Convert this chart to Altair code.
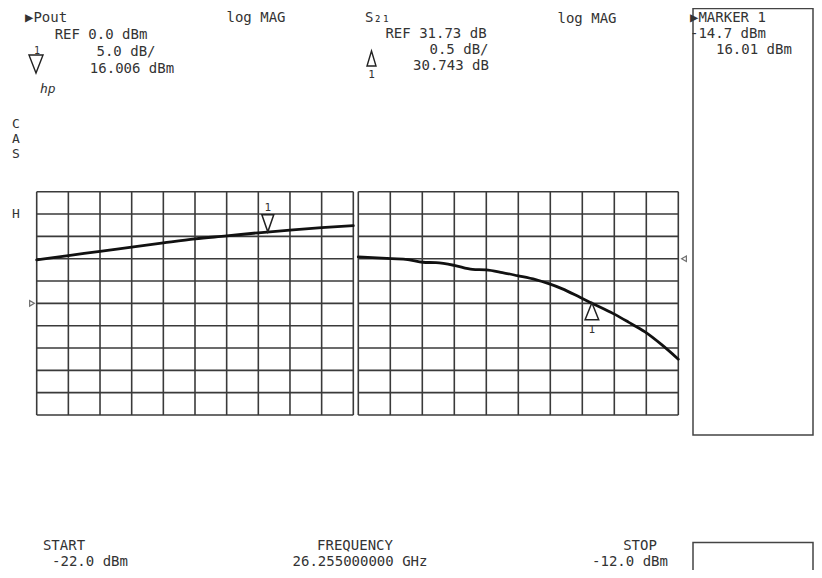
import altair as alt
import pandas as pd

# ---------------- data ----------------
pin_grid = [-22, -21, -20, -19, -18, -17, -16, -15, -14, -13, -12]
pout_levels = [-25, -20, -15, -10, -5, 0, 5, 10, 15, 20, 25]
s21_levels = [28.23, 28.73, 29.23, 29.73, 30.23, 30.73, 31.23, 31.73, 32.23, 32.73, 33.23]

pout_pin = [-22, -21, -20, -19, -18, -17, -16, -15, -14, -13, -12]
pout_dbm = [9.75, 10.7, 11.65, 12.6, 13.55, 14.45, 15.1, 15.8, 16.4, 16.95, 17.4]

s21_pin = [-22.0, -20.96, -20.45, -19.98, -19.57, -19.0, -18.43, -18.01, -17.5, -17.03,
           -16.46, -16.05, -15.64, -15.06, -14.72, -14.03, -13.56, -13.04, -12.53, -12.0]
s21_db = [31.77, 31.73, 31.71, 31.65, 31.64, 31.58, 31.49, 31.48, 31.42, 31.35,
          31.26, 31.17, 31.06, 30.86, 30.74, 30.50, 30.31, 30.09, 29.81, 29.48]

marker_pin = [-14.7]
marker_pout = [16.006]
marker_s21 = [30.743]
ref_pout = [0.0]
ref_s21 = [31.73]

# ---------------- style ----------------
FONT = "DejaVu Sans Mono"
TXT = "#333333"
GRID = "#3a3a3a"
FS = 14

xl = alt.Scale(domain=[-22, -12], range=[28.7, 345.3], nice=False, zero=False)
yl = alt.Scale(domain=[-25, 25], range=[407, 183.7], nice=False, zero=False)
xr = alt.Scale(domain=[-22, -12], range=[350.3, 670.3], nice=False, zero=False)
yr = alt.Scale(domain=[28.23, 33.23], range=[407, 183.7], nice=False, zero=False)

TRI_DOWN = "M-0.7,-2L0.7,-2L0,0Z"
TRI_UP = "M0,0L0.8,2L-0.8,2Z"


def panel(xs, ys, levels, lo, hi, trace_x, trace_y, mk_y, ref_y, tri, dy1, ref_x, ref_shape):
    vg = alt.Chart(pd.DataFrame({"x": pin_grid, "y1": [lo] * len(pin_grid), "y2": [hi] * len(pin_grid)})).mark_rule(
        color=GRID, strokeWidth=1.6).encode(
        x=alt.X("x:Q", scale=xs, axis=None),
        y=alt.Y("y1:Q", scale=ys, axis=None), y2="y2:Q")
    hg = alt.Chart(pd.DataFrame({"y": levels, "x1": [-22] * len(levels), "x2": [-12] * len(levels)})).mark_rule(
        color=GRID, strokeWidth=1.6).encode(
        y=alt.Y("y:Q", scale=ys, axis=None),
        x=alt.X("x1:Q", scale=xs, axis=None), x2="x2:Q")
    tr = alt.Chart(pd.DataFrame({"x": trace_x, "y": trace_y})).mark_line(
        color="#111111", strokeWidth=2.8, strokeJoin="round", strokeCap="round", interpolate="monotone").encode(
        x=alt.X("x:Q", scale=xs, axis=None), y=alt.Y("y:Q", scale=ys, axis=None))
    mdf = pd.DataFrame({"x": marker_pin, "y": mk_y, "t": ["1"]})
    mk = alt.Chart(mdf).mark_point(shape=tri, size=289, filled=True, fill="white", stroke="#222222",
                                   strokeWidth=1.5, opacity=1).encode(
        x=alt.X("x:Q", scale=xs, axis=None), y=alt.Y("y:Q", scale=ys, axis=None))
    mt = alt.Chart(mdf).mark_text(font=FONT, fontSize=11, color=TXT, dy=dy1, baseline="alphabetic").encode(
        x=alt.X("x:Q", scale=xs, axis=None), y=alt.Y("y:Q", scale=ys, axis=None), text="t:N")
    rf = alt.Chart(pd.DataFrame({"y": ref_y})).mark_point(shape=ref_shape, size=30, filled=False,
                                                          stroke="#333333", strokeWidth=1.2).encode(
        x=alt.value(ref_x), y=alt.Y("y:Q", scale=ys, axis=None))
    return alt.layer(vg, hg, tr, mk, mt, rf)


left = panel(xl, yl, pout_levels, -25, 25, pout_pin, pout_dbm, marker_pout, ref_pout,
             TRI_DOWN, -21, 24, "triangle-right")
right = panel(xr, yr, s21_levels, 28.23, 33.23, s21_pin, s21_db, marker_s21, ref_s21,
              TRI_UP, 30, 676, "triangle-left")


def label(txt, x, y, size=FS, align="center", **kw):
    return alt.Chart(pd.DataFrame({"t": [txt]})).mark_text(
        align=align, baseline="alphabetic", font=FONT, fontSize=size, color=TXT, **kw).encode(
        x=alt.value(x), y=alt.value(y), text="t:N")


def box(x1, x2, y1, y2):
    return alt.Chart(pd.DataFrame({"a": [0]})).mark_rect(
        fillOpacity=0, stroke="#444444", strokeWidth=1.5).encode(
        x=alt.value(x1), x2=alt.value(x2), y=alt.value(y1), y2=alt.value(y2))


def glyph(shape, x, y, size):
    return alt.Chart(pd.DataFrame({"a": [0]})).mark_point(
        shape=shape, size=size, filled=True, fill="white", stroke="#222222", strokeWidth=1.4, opacity=1).encode(
        x=alt.value(x), y=alt.value(y))


decor = [
    # left header
    label("\u25B6Pout", 17, 14, align="left"),
    label("log MAG", 248, 14),
    label("REF 0.0 dBm", 93, 31),
    label("5.0 dB/", 118, 48),
    label("16.006 dBm", 124, 65),
    label("1", 29, 46, size=10),
    glyph("M-0.78,-2L0.78,-2L0,0Z", 28, 65, 324),
    label("hp", 32, 85, size=13, align="left", fontStyle="italic"),
    # right header
    label("S\u2082\u2081", 357, 14, align="left"),
    label("log MAG", 579, 15),
    label("REF 31.73 dB", 428, 30),
    label("0.5 dB/", 451, 46),
    label("30.743 dB", 443, 62),
    glyph("M0,0L0.6,2L-0.6,2Z", 363.5, 43, 225),
    label("1", 363.5, 70, size=11),
    # marker box
    box(685, 805, 0.5, 427),
    label("\u25B6MARKER 1", 682, 14, align="left"),
    label("-14.7 dBm", 682, 30, align="left"),
    label("16.01 dBm", 708, 46, align="left"),
    # side letters
    label("C", 4, 120, size=13, align="left"),
    label("A", 4, 135, size=13, align="left"),
    label("S", 4, 150, size=13, align="left"),
    label("H", 4, 210, size=13, align="left"),
    # footer
    label("START", 56, 542),
    label("-22.0 dBm", 82, 558),
    label("FREQUENCY", 347, 542),
    label("26.255000000 GHz", 352, 558),
    label("STOP", 632, 542),
    label("-12.0 dBm", 622, 558),
    box(685, 805, 534.5, 580),
]

chart = alt.layer(left, right, *decor).resolve_scale(
    x="independent", y="independent"
).properties(
    width=806, height=562, padding=0,
    autosize=alt.AutoSizeParams(type="none"),
    background="white",
).configure_view(stroke=None)

chart.save("out.html", embed_options={"renderer": "svg", "actions": False})
